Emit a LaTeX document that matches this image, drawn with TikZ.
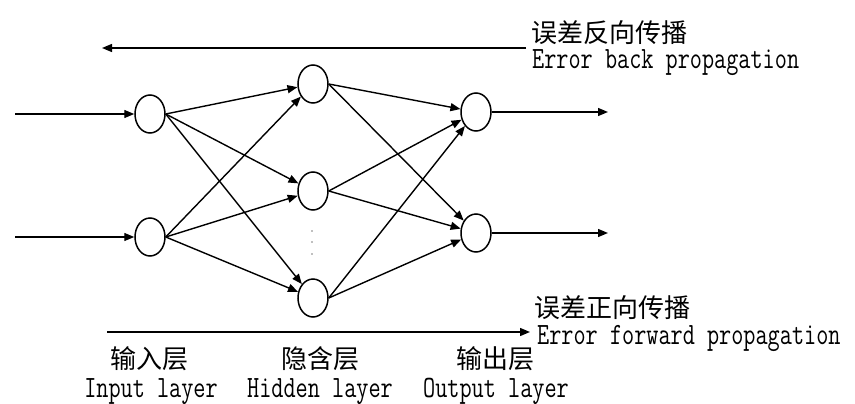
\documentclass[tikz,border=0pt]{standalone}
\usepackage{fontspec}
\setmonofont{Latin Modern Mono}[FakeStretch=0.76]
\newfontfamily\cjk{Noto Sans CJK SC}
\usetikzlibrary{shapes.geometric,arrows.meta}
\begin{document}
\begin{tikzpicture}[x=1pt,y=-1pt,
  neuron/.style={draw,ellipse,minimum width=30pt,minimum height=38pt,inner sep=0pt,line width=1.5pt},
  conn/.style={line width=1.4pt,-{Triangle[length=10pt,width=8pt]}},
  cjklabel/.style={font=\cjk\fontsize{26pt}{30pt}\selectfont,inner sep=0pt},
  latlabel/.style={font=\ttfamily\fontsize{31pt}{34pt}\selectfont,inner sep=0pt},
  dotmark/.style={fill=gray,circle,inner sep=0pt,minimum size=1.6pt}]
\useasboundingbox (0,0) rectangle (855,404);
% nodes
\node[neuron] (i1) at (150,114) {};
\node[neuron] (i2) at (150,237) {};
\node[neuron] (h1) at (313,84) {};
\node[neuron] (h2) at (313,191) {};
\node[neuron] (h3) at (313,298) {};
\node[neuron] (o1) at (476,112) {};
\node[neuron] (o2) at (476,233) {};
% free ends
\coordinate (in1) at (15,114);
\coordinate (in2) at (15,237);
\coordinate (out1) at (608,112);
\coordinate (out2) at (608,233);
\coordinate (bkR) at (526,48);
\coordinate (bkL) at (102,48);
\coordinate (fwL) at (107,332);
\coordinate (fwR) at (530,332);
% input arrows
\draw[conn] (in1) -- (i1);
\draw[conn] (in2) -- (i2);
% input to hidden
\foreach \s in {i1,i2}{
  \foreach \t in {h1,h2,h3}{
    \draw[conn] (\s.east) -- (\t);
  }
}
% hidden to output
\foreach \s in {h1,h2,h3}{
  \foreach \t in {o1,o2}{
    \draw[conn] (\s.east) -- (\t);
  }
}
% output arrows
\draw[conn] (o1) -- (out1);
\draw[conn] (o2) -- (out2);
% propagation arrows
\draw[conn] (bkR) -- (bkL);
\draw[conn] (fwL) -- (fwR);
% dots
\node[dotmark] (d1) at (312,231) {};
\node[dotmark] (d2) at (312,242) {};
\node[dotmark] (d3) at (312,254) {};
% labels
\node[cjklabel,anchor=west] (bkc) at (531,33) {误差反向传播};
\node[latlabel,anchor=base west] (bke) at (532,69) {Error back propagation};
\node[cjklabel,anchor=west] (fwc) at (534,308) {误差正向传播};
\node[latlabel,anchor=base west] (fwe) at (537,344) {Error forward propagation};
\node[cjklabel] (lc1) at (149,359) {输入层};
\node[cjklabel] (lc2) at (320,359) {隐含层};
\node[cjklabel] (lc3) at (495,359) {输出层};
\node[latlabel,anchor=base] (le1) at (151,397) {Input layer};
\node[latlabel,anchor=base] (le2) at (320,397) {Hidden layer};
\node[latlabel,anchor=base] (le3) at (496,397) {Output layer};
\end{tikzpicture}
\end{document}
